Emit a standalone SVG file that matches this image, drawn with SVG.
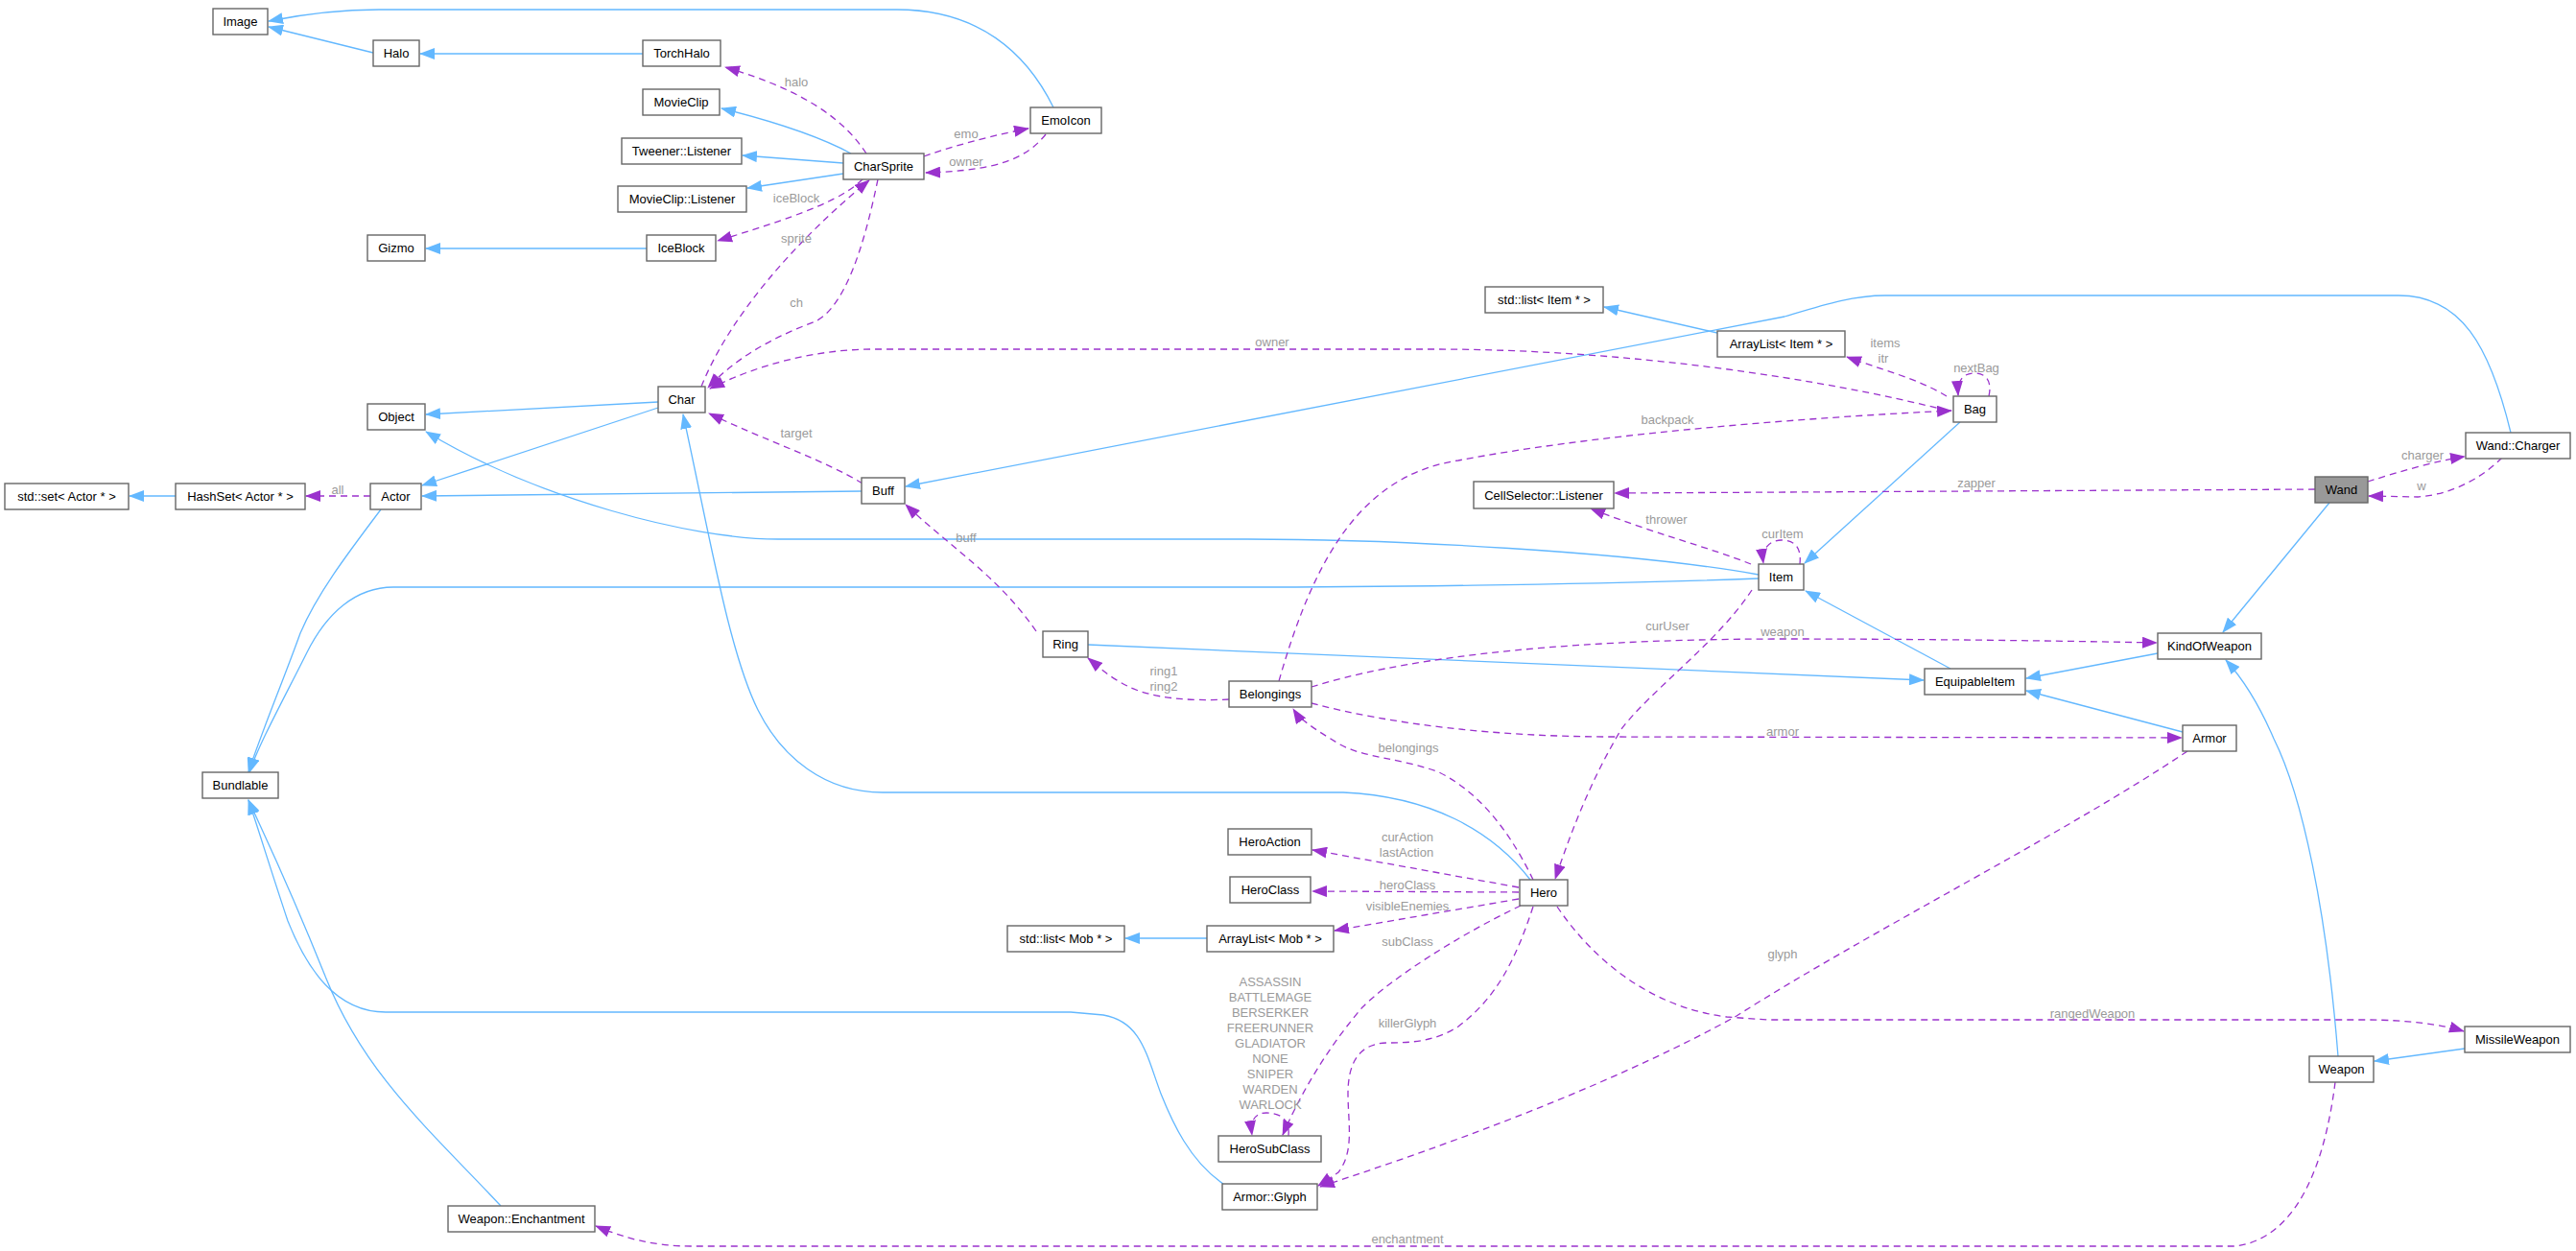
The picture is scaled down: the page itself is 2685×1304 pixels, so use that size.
<svg xmlns="http://www.w3.org/2000/svg" width="2685" height="1304" viewBox="0 0 2685 1304">
<style>
.n rect{fill:#fff;stroke:#666;stroke-width:1.4}
.n text{font-family:"Liberation Sans",Arial,sans-serif;font-size:13px;fill:#000;text-anchor:middle;dominant-baseline:central}
.i{fill:none;stroke:#63b8ff;stroke-width:1.3;marker-end:url(#ab)}
.d{fill:none;stroke:#9a32cd;stroke-width:1.3;stroke-dasharray:7,5;marker-end:url(#ap)}
.l{font-family:"Liberation Sans",Arial,sans-serif;font-size:13px;fill:#9a9a9a;text-anchor:middle;dominant-baseline:central}
</style>
<defs>
<marker id="ab" markerUnits="userSpaceOnUse" markerWidth="16" markerHeight="12" viewBox="0 0 16 12" refX="15" refY="6" orient="auto"><path d="M0,0L16,6L0,12z" fill="#63b8ff"/></marker>
<marker id="ap" markerUnits="userSpaceOnUse" markerWidth="16" markerHeight="12" viewBox="0 0 16 12" refX="15" refY="6" orient="auto"><path d="M0,0L16,6L0,12z" fill="#9a32cd"/></marker>
</defs>
<rect width="2685" height="1304" fill="#fff"/>
<g id="edges">
<path class="i" d="M389,55L280,28"/>
<path class="i" d="M1098,112C1070,55 1020,10 935,10L395,10C350,10 310,16 280,22"/>
<path class="i" d="M670,56L438,56"/>
<path class="i" d="M887,160C850,140 800,125 752,113"/>
<path class="i" d="M879,170L774,162"/>
<path class="i" d="M879,181L779,196"/>
<path class="i" d="M674,259L444,259"/>
<path class="i" d="M686,419L444,432"/>
<path class="i" d="M686,425L440,506"/>
<path class="i" d="M898,512L440,517"/>
<path class="i" d="M183,517L135,517"/>
<path class="i" d="M397,531C360,580 330,620 313,660C295,710 270,770 259,805"/>
<path class="i" d="M1833,599C1700,575 1450,562 1300,562L811,562C720,562 560,520 444,450"/>
<path class="i" d="M1833,603C1650,610 1400,612 1300,612L410,612C370,612 340,640 320,680C295,730 270,775 260,805"/>
<path class="i" d="M2617,451C2595,360 2565,308 2500,308L1965,308C1930,308 1900,318 1860,330L944,507"/>
<path class="i" d="M1790,347L1672,320"/>
<path class="i" d="M2043,440L1881,587"/>
<path class="i" d="M2033,697L1882,616"/>
<path class="i" d="M2249,681L2112,707"/>
<path class="i" d="M2275,763L2112,720"/>
<path class="i" d="M2428,524L2317,659"/>
<path class="i" d="M2437,1101C2425,950 2400,830 2370,770C2355,735 2340,710 2320,688"/>
<path class="i" d="M2569,1093L2475,1106"/>
<path class="i" d="M1134,672L2005,709"/>
<path class="i" d="M1595,917C1555,865 1490,830 1400,826L920,826C860,826 815,790 790,740C760,680 740,560 712,432"/>
<path class="i" d="M1258,978L1173,978"/>
<path class="i" d="M1275,1234C1240,1210 1222,1170 1210,1140C1195,1100 1190,1065 1150,1058L1116,1055L402,1055C350,1055 320,1010 300,960C280,900 268,860 259,834"/>
<path class="i" d="M522,1257C450,1180 380,1120 340,1020C300,920 280,880 259,834"/>
<path class="d" d="M903,160C880,125 840,95 756,70"/>
<path class="d" d="M963,163C1000,150 1040,140 1072,134"/>
<path class="d" d="M1090,140C1070,165 1040,178 965,180"/>
<path class="d" d="M899,187C880,205 850,220 748,251"/>
<path class="d" d="M731,403C760,330 830,250 906,188"/>
<path class="d" d="M915,187C900,260 880,320 850,335C810,350 770,370 738,404"/>
<path class="d" d="M2030,428C1900,395 1700,364 1494,364L911,364C850,364 790,380 740,405"/>
<path class="d" d="M899,504C860,480 800,460 739,431"/>
<path class="d" d="M386,517L319,517"/>
<path class="d" d="M1080,658C1040,600 990,570 944,526"/>
<path class="d" d="M2029,413C2000,395 1960,385 1925,372"/>
<path class="d" d="M2073,413C2077,395 2068,389 2058,389C2045,389 2040,398 2041,412"/>
<path class="d" d="M1333,710C1370,580 1420,495 1520,480C1650,455 1850,437 2034,428"/>
<path class="d" d="M2413,510L1683,514"/>
<path class="d" d="M2468,502C2500,492 2540,480 2569,476"/>
<path class="d" d="M2608,477C2590,495 2560,515 2520,518L2469,517"/>
<path class="d" d="M1825,588C1780,570 1720,555 1658,530"/>
<path class="d" d="M1876,588C1878,570 1870,563 1857,563C1844,563 1836,572 1838,587"/>
<path class="d" d="M1826,615C1790,670 1720,720 1690,760C1660,810 1640,860 1621,916"/>
<path class="d" d="M1367,716C1450,690 1600,666 1860,666C2000,666 2150,668 2248,670"/>
<path class="d" d="M1281,729C1240,731 1200,728 1175,715C1155,705 1145,695 1134,686"/>
<path class="d" d="M1367,733C1450,755 1560,768 1680,768L2274,769"/>
<path class="d" d="M1598,917C1580,880 1550,830 1500,805C1460,790 1420,790 1395,775C1370,760 1355,750 1348,739"/>
<path class="d" d="M1583,925L1368,886"/>
<path class="d" d="M1583,930L1368,929"/>
<path class="d" d="M1583,937L1391,970"/>
<path class="d" d="M1585,944C1520,975 1450,1020 1420,1050C1390,1085 1360,1130 1337,1183"/>
<path class="d" d="M1343,1184C1345,1165 1332,1160 1320,1160C1308,1160 1303,1168 1305,1183"/>
<path class="d" d="M1598,945C1580,1000 1560,1040 1520,1070C1495,1086 1470,1087 1445,1087C1415,1088 1405,1110 1405,1140C1405,1170 1412,1200 1395,1222L1374,1236"/>
<path class="d" d="M2280,783C2150,870 1950,970 1810,1059C1700,1120 1550,1180 1376,1237"/>
<path class="d" d="M1623,945C1660,1000 1720,1050 1800,1060L1842,1063L2465,1063C2510,1063 2545,1068 2568,1075"/>
<path class="d" d="M2434,1128C2425,1200 2400,1290 2330,1299L720,1299C680,1299 650,1290 621,1278"/>
</g>
<g id="labels">
<text class="l" x="830" y="85">halo</text>
<text class="l" x="1007" y="139">emo</text>
<text class="l" x="1007" y="168">owner</text>
<text class="l" x="830" y="206">iceBlock</text>
<text class="l" x="830" y="248">sprite</text>
<text class="l" x="830" y="315">ch</text>
<text class="l" x="830" y="451">target</text>
<text class="l" x="352" y="510">all</text>
<text class="l" x="1007" y="560">buff</text>
<text class="l" x="1326" y="356">owner</text>
<text class="l" x="1965" y="357">items</text>
<text class="l" x="1963" y="373">itr</text>
<text class="l" x="2060" y="383">nextBag</text>
<text class="l" x="1738" y="437">backpack</text>
<text class="l" x="2525" y="474">charger</text>
<text class="l" x="2060" y="503">zapper</text>
<text class="l" x="2524" y="506">w</text>
<text class="l" x="1737" y="541">thrower</text>
<text class="l" x="1858" y="556">curItem</text>
<text class="l" x="1738" y="652">curUser</text>
<text class="l" x="1858" y="658">weapon</text>
<text class="l" x="1858" y="762">armor</text>
<text class="l" x="1468" y="779">belongings</text>
<text class="l" x="1213" y="699">ring1</text>
<text class="l" x="1213" y="715">ring2</text>
<text class="l" x="1467" y="872">curAction</text>
<text class="l" x="1466" y="888">lastAction</text>
<text class="l" x="1467" y="922">heroClass</text>
<text class="l" x="1467" y="944">visibleEnemies</text>
<text class="l" x="1467" y="981">subClass</text>
<text class="l" x="1324" y="1023">ASSASSIN</text>
<text class="l" x="1324" y="1039">BATTLEMAGE</text>
<text class="l" x="1324" y="1055">BERSERKER</text>
<text class="l" x="1324" y="1071">FREERUNNER</text>
<text class="l" x="1324" y="1087">GLADIATOR</text>
<text class="l" x="1324" y="1103">NONE</text>
<text class="l" x="1324" y="1119">SNIPER</text>
<text class="l" x="1324" y="1135">WARDEN</text>
<text class="l" x="1324" y="1151">WARLOCK</text>
<text class="l" x="1467" y="1066">killerGlyph</text>
<text class="l" x="1858" y="994">glyph</text>
<text class="l" x="2181" y="1056">rangedWeapon</text>
<text class="l" x="1467" y="1291">enchantment</text>
</g>
<g id="Image" class="n"><rect x="222" y="9" width="57" height="27"/><text x="250.5" y="22.5">Image</text></g>
<g id="Halo" class="n"><rect x="389" y="42" width="48" height="27"/><text x="413" y="55.5">Halo</text></g>
<g id="TorchHalo" class="n"><rect x="670" y="42" width="81" height="27"/><text x="710.5" y="55.5">TorchHalo</text></g>
<g id="MovieClip" class="n"><rect x="670" y="93" width="80" height="27"/><text x="710" y="106.5">MovieClip</text></g>
<g id="TweenerListener" class="n"><rect x="648" y="144" width="125" height="27"/><text x="710.5" y="157.5">Tweener::Listener</text></g>
<g id="CharSprite" class="n"><rect x="879" y="160" width="84" height="27"/><text x="921" y="173.5">CharSprite</text></g>
<g id="MovieClipListener" class="n"><rect x="644" y="194" width="134" height="27"/><text x="711" y="207.5">MovieClip::Listener</text></g>
<g id="EmoIcon" class="n"><rect x="1074" y="112" width="74" height="27"/><text x="1111" y="125.5">EmoIcon</text></g>
<g id="Gizmo" class="n"><rect x="383" y="245" width="60" height="27"/><text x="413" y="258.5">Gizmo</text></g>
<g id="IceBlock" class="n"><rect x="674" y="245" width="72" height="27"/><text x="710" y="258.5">IceBlock</text></g>
<g id="Char" class="n"><rect x="686" y="403" width="49" height="27"/><text x="710.5" y="416.5">Char</text></g>
<g id="Object" class="n"><rect x="383" y="421" width="60" height="27"/><text x="413" y="434.5">Object</text></g>
<g id="stdsetActor" class="n"><rect x="5" y="504" width="129" height="27"/><text x="69.5" y="517.5">std::set&lt; Actor * &gt;</text></g>
<g id="HashSetActor" class="n"><rect x="183" y="504" width="135" height="27"/><text x="250.5" y="517.5">HashSet&lt; Actor * &gt;</text></g>
<g id="Actor" class="n"><rect x="386" y="504" width="53" height="27"/><text x="412.5" y="517.5">Actor</text></g>
<g id="Buff" class="n"><rect x="898" y="498" width="45" height="27"/><text x="920.5" y="511.5">Buff</text></g>
<g id="stdlistItem" class="n"><rect x="1548" y="299" width="123" height="27"/><text x="1609.5" y="312.5">std::list&lt; Item * &gt;</text></g>
<g id="ArrayListItem" class="n"><rect x="1790" y="345" width="133" height="27"/><text x="1856.5" y="358.5">ArrayList&lt; Item * &gt;</text></g>
<g id="Bag" class="n"><rect x="2036" y="413" width="45" height="27"/><text x="2058.5" y="426.5">Bag</text></g>
<g id="WandCharger" class="n"><rect x="2570" y="451" width="109" height="27"/><text x="2624.5" y="464.5">Wand::Charger</text></g>
<g id="Wand" class="n"><rect x="2413" y="497" width="55" height="27" style="fill:#999"/><text x="2440.5" y="510.5">Wand</text></g>
<g id="CellSelectorListener" class="n"><rect x="1536" y="502" width="146" height="28"/><text x="1609" y="516">CellSelector::Listener</text></g>
<g id="Item" class="n"><rect x="1833" y="588" width="47" height="27"/><text x="1856.5" y="601.5">Item</text></g>
<g id="KindOfWeapon" class="n"><rect x="2249" y="660" width="108" height="27"/><text x="2303" y="673.5">KindOfWeapon</text></g>
<g id="EquipableItem" class="n"><rect x="2006" y="697" width="105" height="27"/><text x="2058.5" y="710.5">EquipableItem</text></g>
<g id="Ring" class="n"><rect x="1087" y="658" width="47" height="27"/><text x="1110.5" y="671.5">Ring</text></g>
<g id="Belongings" class="n"><rect x="1281" y="710" width="86" height="27"/><text x="1324" y="723.5">Belongings</text></g>
<g id="Armor" class="n"><rect x="2275" y="756" width="56" height="27"/><text x="2303" y="769.5">Armor</text></g>
<g id="Bundlable" class="n"><rect x="211" y="805" width="79" height="27"/><text x="250.5" y="818.5">Bundlable</text></g>
<g id="HeroAction" class="n"><rect x="1280" y="864" width="87" height="27"/><text x="1323.5" y="877.5">HeroAction</text></g>
<g id="HeroClass" class="n"><rect x="1282" y="914" width="84" height="27"/><text x="1324" y="927.5">HeroClass</text></g>
<g id="stdlistMob" class="n"><rect x="1050" y="965" width="122" height="27"/><text x="1111" y="978.5">std::list&lt; Mob * &gt;</text></g>
<g id="ArrayListMob" class="n"><rect x="1258" y="965" width="132" height="27"/><text x="1324" y="978.5">ArrayList&lt; Mob * &gt;</text></g>
<g id="Hero" class="n"><rect x="1584" y="917" width="50" height="27"/><text x="1609" y="930.5">Hero</text></g>
<g id="HeroSubClass" class="n"><rect x="1270" y="1184" width="107" height="27"/><text x="1323.5" y="1197.5">HeroSubClass</text></g>
<g id="ArmorGlyph" class="n"><rect x="1274" y="1234" width="99" height="27"/><text x="1323.5" y="1247.5">Armor::Glyph</text></g>
<g id="WeaponEnchantment" class="n"><rect x="467" y="1257" width="153" height="27"/><text x="543.5" y="1270.5">Weapon::Enchantment</text></g>
<g id="MissileWeapon" class="n"><rect x="2569" y="1070" width="110" height="27"/><text x="2624" y="1083.5">MissileWeapon</text></g>
<g id="Weapon" class="n"><rect x="2407" y="1101" width="67" height="27"/><text x="2440.5" y="1114.5">Weapon</text></g>
</svg>
